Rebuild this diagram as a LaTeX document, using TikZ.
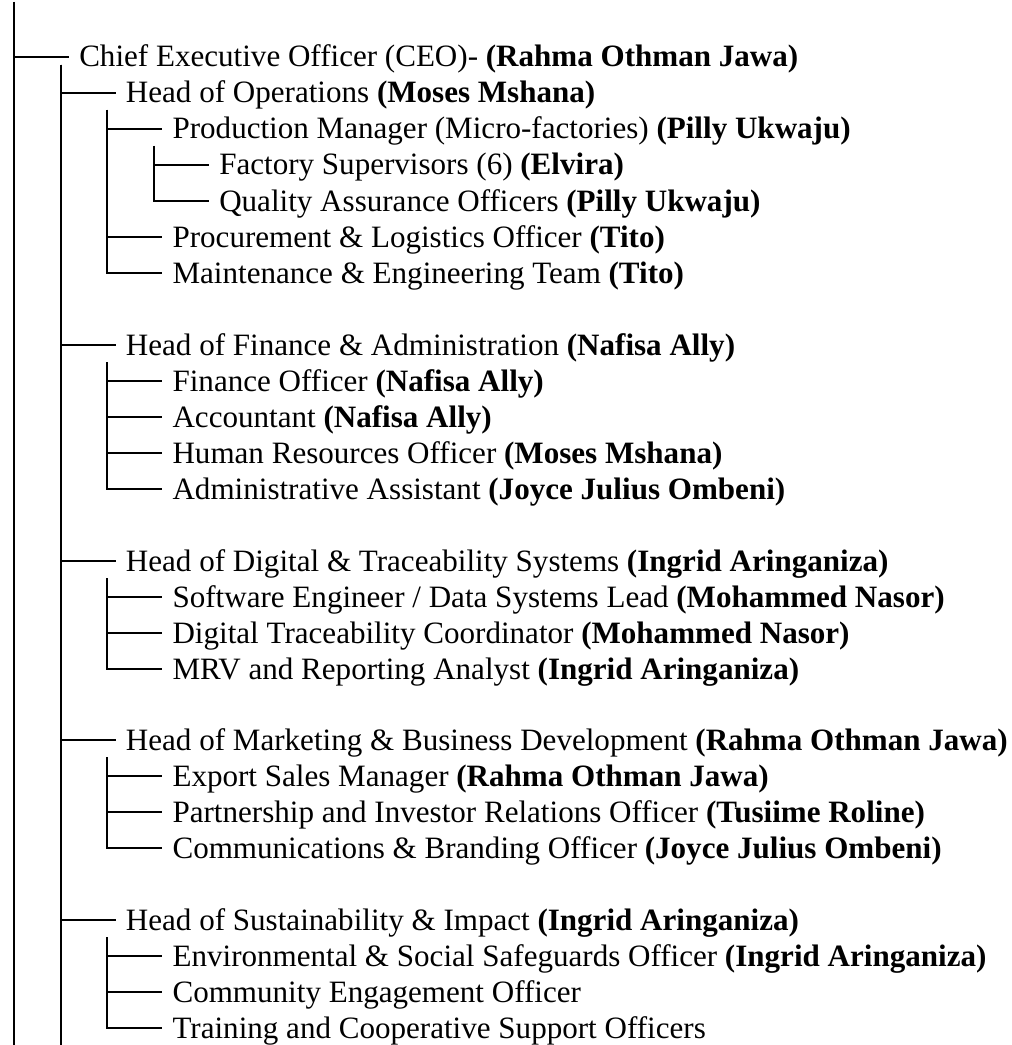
\documentclass[tikz,border=0pt]{standalone}
\usepackage{fontspec}
\setmainfont{Liberation Serif}

\tikzset{
  entry/.style={anchor=west, inner xsep=7.5pt, inner ysep=0pt,
    text height=15pt, text depth=0pt, font=\fontsize{23.3}{27}\selectfont},
  branch/.style={line width=1.6pt}
}

\begin{document}
\begin{tikzpicture}[x=0.75pt, y=-0.75pt]
    \useasboundingbox (0,0) rectangle (1011,1045);
    % CEO
    \coordinate (top) at (14,2);
    \coordinate (bottom) at (14,1045);
    \node[entry] (ceo) at (69,57) {Chief Executive Officer (CEO)- \textbf{(Rahma Othman Jawa)}};
    % heads
    \node[entry] (ops) at (115.7,93) {Head of Operations \textbf{(Moses Mshana)}};
    \node[entry] (fin) at (115.7,345) {Head of Finance \& Administration \textbf{(Nafisa Ally)}};
    \node[entry] (dig) at (115.7,561) {Head of Digital \& Traceability Systems \textbf{(Ingrid Aringaniza)}};
    \node[entry] (mkt) at (115.7,740) {Head of Marketing \& Business Development \textbf{(Rahma Othman Jawa)}};
    \node[entry] (sust) at (115.7,920) {Head of Sustainability \& Impact \textbf{(Ingrid Aringaniza)}};
    % operations
    \node[entry] (prod) at (162.3,129) {Production Manager (Micro-factories) \textbf{(Pilly Ukwaju)}};
    \node[entry] (factory) at (209,165) {Factory Supervisors (6) \textbf{(Elvira)}};
    \node[entry] (quality) at (209,201) {Quality Assurance Officers \textbf{(Pilly Ukwaju)}};
    \node[entry] (procure) at (162.3,237) {Procurement \& Logistics Officer \textbf{(Tito)}};
    \node[entry] (maint) at (162.3,273) {Maintenance \& Engineering Team \textbf{(Tito)}};
    % finance
    \node[entry] (finoff) at (162.3,381) {Finance Officer \textbf{(Nafisa Ally)}};
    \node[entry] (acct) at (162.3,417) {Accountant \textbf{(Nafisa Ally)}};
    \node[entry] (hr) at (162.3,453) {Human Resources Officer \textbf{(Moses Mshana)}};
    \node[entry] (admin) at (162.3,489) {Administrative Assistant \textbf{(Joyce Julius Ombeni)}};
    % digital
    \node[entry] (soft) at (162.3,597) {Software Engineer / Data Systems Lead \textbf{(Mohammed Nasor)}};
    \node[entry] (trace) at (162.3,633) {Digital Traceability Coordinator \textbf{(Mohammed Nasor)}};
    \node[entry] (mrv) at (162.3,669) {MRV and Reporting Analyst \textbf{(Ingrid Aringaniza)}};
    % marketing
    \node[entry] (export) at (162.3,776) {Export Sales Manager \textbf{(Rahma Othman Jawa)}};
    \node[entry] (partner) at (162.3,812) {Partnership and Investor Relations Officer \textbf{(Tusiime Roline)}};
    \node[entry] (comms) at (162.3,848) {Communications \& Branding Officer \textbf{(Joyce Julius Ombeni)}};
    % sustainability
    \node[entry] (env) at (162.3,956) {Environmental \& Social Safeguards Officer \textbf{(Ingrid Aringaniza)}};
    \node[entry] (comm) at (162.3,992) {Community Engagement Officer};
    \node[entry] (train) at (162.3,1028) {Training and Cooperative Support Officers};

    % tree lines
    \draw[branch] (top) -- (bottom);
    \draw[branch] (top) |- (ceo.west);
    \coordinate (ceotop) at ([xshift=-6.25pt,yshift=-6pt]ceo.west);
    \draw[branch] (ceotop) -- (ceotop |- bottom);
    \foreach \c in {ops,fin,dig,mkt,sust}
      \draw[branch] (ceotop) |- (\c.west);
    \foreach \p/\kids in {ops/{prod,procure,maint}, prod/{factory,quality},
        fin/{finoff,acct,hr,admin}, dig/{soft,trace,mrv},
        mkt/{export,partner,comms}, sust/{env,comm,train}}
      \foreach \c in \kids
        \draw[branch] ([xshift=-6.25pt,yshift=-12.75pt]\p.west) |- (\c.west);
\end{tikzpicture}
\end{document}
